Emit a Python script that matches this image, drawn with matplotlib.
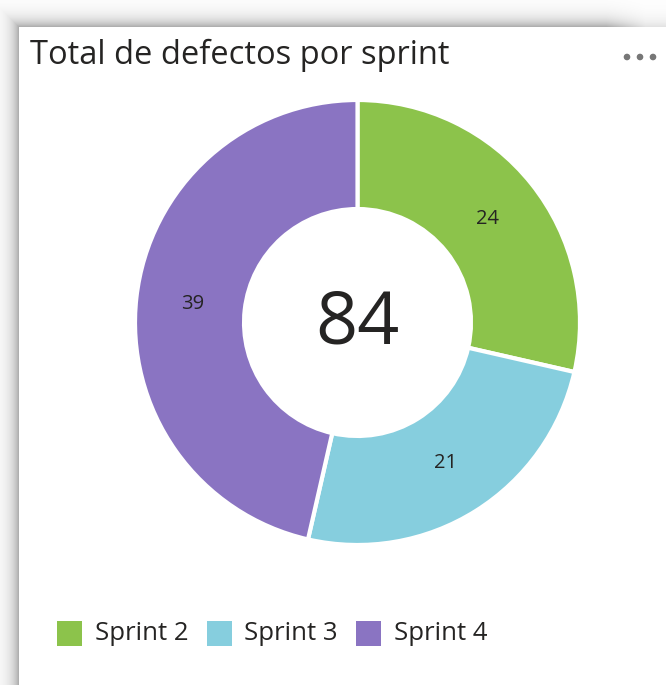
import numpy as np
import matplotlib
matplotlib.use("Agg")
import matplotlib.pyplot as plt
from matplotlib.patches import Rectangle, Circle

# ---- data ----
categories = ["Sprint 2", "Sprint 3", "Sprint 4"]
values = [24, 21, 39]
colors = ["#8CC34B", "#86CEDE", "#8A74C2"]
title = "Total de defectos por sprint"

W, H = 666, 685
DPI = 100
fig = plt.figure(figsize=(W / DPI, H / DPI), dpi=DPI)
fig.patch.set_facecolor("white")

plt.rcParams["font.family"] = ["Open Sans", "DejaVu Sans"]

# background axes in pixel coordinates (y down)
bg = fig.add_axes([0, 0, 1, 1])
bg.set_xlim(0, W)
bg.set_ylim(H, 0)
bg.axis("off")

# card shadow (decoration)
card_x, card_y = 19, 27
yy, xx = np.mgrid[0:H, 0:W]
d = np.maximum(np.maximum(card_x - xx, card_y - yy), 0).astype(float)
inside = (xx >= card_x) & (yy >= card_y)
shade = 255 - 90 * np.exp(-d / 8.0)
fade = np.clip((W - xx) / 60.0, 0.35, 1.0)
shade = 255 - (255 - shade) * np.where(yy < card_y, fade, 1.0)
shade[inside] = 255
img = np.dstack([shade, shade, shade]) / 255.0
bg.imshow(img, extent=(0, W, H, 0), interpolation="nearest", zorder=0)

# title and ellipsis
bg.text(30, 55, title, fontsize=23.5, color="#252423", va="center", ha="left")
for ex in [627, 640, 653]:
    bg.add_patch(Circle((ex, 57), 2.6, color="#777777", zorder=3))

# ---- donut ----
cx, cy, R = 357.5, 322.5, 222.5
pax = fig.add_axes([(cx - R) / W, (H - cy - R) / H, 2 * R / W, 2 * R / H])
pax.set_facecolor("none")
wedges, _ = pax.pie(values, colors=colors, startangle=90, counterclock=False,
                    radius=1.0, wedgeprops=dict(width=0.49, edgecolor="white",
                                                linewidth=3, joinstyle="round"))
pax.set_xlim(-1, 1)
pax.set_ylim(-1, 1)
pax.set_aspect("auto")
pax.axis("off")

total = sum(values)
start = 90.0
for v in values:
    ang = np.deg2rad(start - v / total * 180.0)
    r = 0.745
    pax.text(r * np.cos(ang), r * np.sin(ang), str(v), ha="center", va="center",
             fontsize=14.5, color="#252423")
    start -= v / total * 360.0

pax.text(0, -0.01, str(total), ha="center", va="center", fontsize=53, color="#252423")

# ---- legend ----
lx = 57
ly = 633
for cat, col in zip(categories, colors):
    bg.add_patch(Rectangle((lx, ly - 12.5), 25, 25, facecolor=col, edgecolor="none"))
    t = bg.text(lx + 38, ly, cat, fontsize=18.5, color="#252423", va="center", ha="left")
    fig.canvas.draw()
    bb = t.get_window_extent()
    lx = bb.x1 + 18

fig.savefig("out.png", dpi=DPI, facecolor=fig.get_facecolor())
